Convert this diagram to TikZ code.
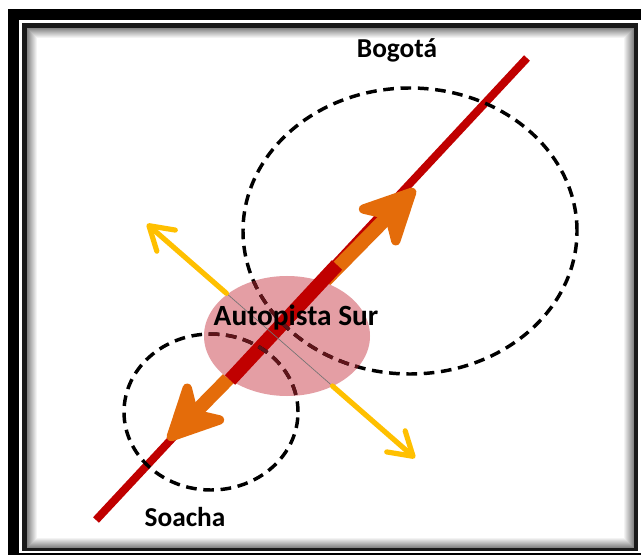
\documentclass[tikz,border=0pt]{standalone}
\usepackage{fontspec}
\setmainfont{Carlito}
\usetikzlibrary{arrows.meta,shapes.geometric}
\definecolor{roadred}{RGB}{192,0,0}
\definecolor{flow}{RGB}{228,108,10}
\definecolor{yel}{RGB}{255,192,0}
\definecolor{hubpink}{RGB}{228,158,164}
\definecolor{deepmaroon}{RGB}{95,20,25}
\tikzset{
  road/.style={draw=roadred, line width=6pt},
  roadthick/.style={draw=roadred, line width=10.5pt},
  flowarrow/.style={draw=flow, line width=10.5pt,
    {Stealth[length=51pt, width=50pt, inset=15pt, round, line width=7pt]}-{Stealth[length=51pt, width=50pt, inset=15pt, round, line width=7pt]}},
  yelarrow/.style={draw=yel, line width=3.9pt, line cap=round,
    -{Straight Barb[length=17pt, width=21pt, round]}},
  thinline/.style={draw=black!55, line width=0.5pt},
  zone/.style={ellipse, inner sep=0pt, line width=2.6pt, dash pattern=on 8pt off 5pt},
  hubzone/.style={ellipse, inner sep=0pt, fill=hubpink, minimum width=124.5pt, minimum height=90pt},
  lbl/.style={font=\bfseries\fontsize{20.5}{24}\selectfont, inner sep=0pt},
  hublbl/.style={font=\bfseries\fontsize{22}{26}\selectfont, inner sep=0pt}
}
\begin{document}
\begin{tikzpicture}[x=0.75pt,y=-0.75pt]
\useasboundingbox (0,0) rectangle (641,555);
% frame
\fill[white] (0,0) rectangle (641,555);
\fill[black] (8,9.5) rectangle (641,555);
\fill[white] (19,20) rectangle (641,553);
\fill[black!90] (22,23) rectangle (638,551);
\foreach \i in {0,...,10}{
  \pgfmathsetmacro{\g}{max(0,48-4.8*\i)}
  \fill[black!\g] (27+\i,28+\i) rectangle (634-\i,548-\i);
}
% coordinates
\coordinate (rS) at (96,520);
\coordinate (rN) at (527,58);
\coordinate (oS) at (168,440);
\coordinate (oN) at (415,189);
\coordinate (tS) at (230,380);
\coordinate (tN) at (337,265);
\coordinate (yNW) at (147,224);
\coordinate (ySE) at (415,458);
\coordinate (eNW) at (226.4,293.3);
\coordinate (eSE) at (332.5,386);
% road
\draw[road] (rS) -- (rN);
% flow arrows
\draw[flowarrow] (oS) -- (oN);
% hub
\node[hubzone] (hub) at (287,336) {};
\draw[roadthick] (tS) -- (tN);
% yellow arrows
\draw[thinline] (eNW) -- (eSE);
\draw[yelarrow] (eNW) -- (yNW);
\draw[yelarrow] (eSE) -- (ySE);
% dashed zones
\node[zone, draw=black, minimum width=250.5pt, minimum height=214.5pt] (bog) at (410,231) {};
\node[zone, draw=black, minimum width=130.5pt, minimum height=117pt] (soa) at (211,412) {};
\begin{scope}
  \clip (287,336) ellipse [x radius=83, y radius=60];
  \node[zone, draw=deepmaroon, minimum width=250.5pt, minimum height=214.5pt] at (410,231) {};
  \node[zone, draw=deepmaroon, minimum width=130.5pt, minimum height=117pt] at (211,412) {};
\end{scope}
% labels
\node[lbl] (bogl) at (397,50) {Bogotá};
\node[lbl] (soal) at (185,517) {Soacha};
\node[hublbl] (hubl) at (296,318) {Autopista Sur};
\end{tikzpicture}
\end{document}
